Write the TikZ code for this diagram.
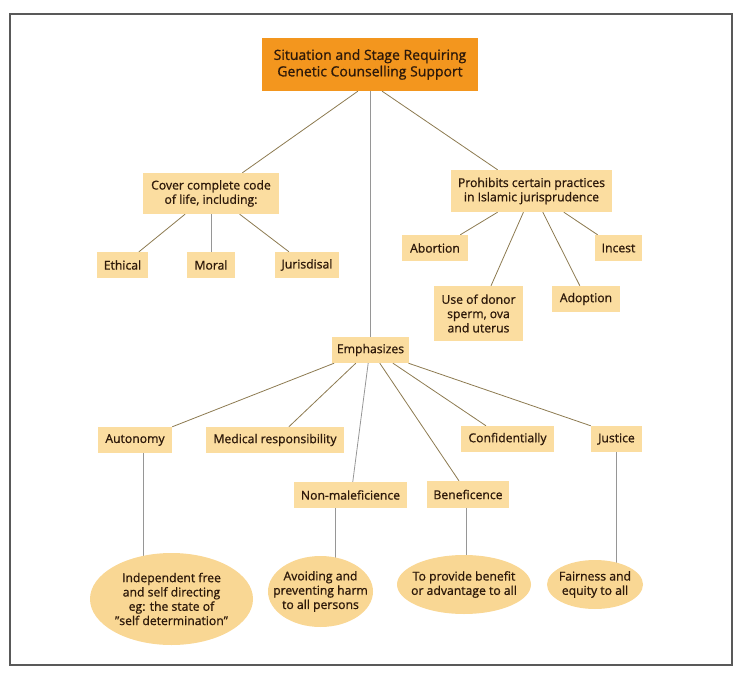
\documentclass[tikz,border=0pt]{standalone}
\usepackage{fontspec}
\setmainfont{Open Sans}[FakeBold=0.9]
\usetikzlibrary{calc,shapes.geometric,backgrounds}
\definecolor{boxfill}{RGB}{251,221,160}
\definecolor{ellfill}{RGB}{249,215,148}
\definecolor{topfill}{RGB}{243,150,30}
\definecolor{txt}{RGB}{45,25,10}
\definecolor{linkc}{RGB}{140,122,80}
\definecolor{vlink}{RGB}{150,150,150}
\tikzset{
  pbox/.style={fill=boxfill, text=txt, inner sep=0pt, align=center,
    font=\fontsize{12.2}{14.3}\selectfont},
  topbox/.style={fill=topfill, text=txt, inner sep=0pt, align=center,
    font=\fontsize{14}{16.5}\selectfont, minimum width=216pt, minimum height=53pt},
  pell/.style={ellipse, fill=ellfill, inner sep=0pt},
  etext/.style={text=txt, inner sep=0pt, align=center,
    font=\fontsize{12.2}{14.3}\selectfont},
  link/.style={draw=linkc, line width=0.8pt},
  vline/.style={draw=vlink, line width=0.8pt},
  frame/.style={draw=black!65, line width=1.2pt}
}
\begin{document}
\begin{tikzpicture}[x=1pt,y=-1pt]
\useasboundingbox (0,0) rectangle (742,677);
\draw[frame] (10,14) rectangle (732,665);

\node[topbox] (top) at (370,64.5) {Situation and Stage Requiring\\Genetic Counselling Support};

\node[pbox, minimum width=136pt, minimum height=41pt] (cover) at (211,193.5) {Cover complete code\\of life, including:};
\node[pbox, minimum width=51pt, minimum height=26pt] (ethical) at (122.5,265) {Ethical};
\node[pbox, minimum width=48pt, minimum height=26pt] (moral) at (211,265) {Moral};
\node[pbox, minimum width=64pt, minimum height=26pt] (juris) at (307,265) {Jurisdisal};

\node[pbox, minimum width=161pt, minimum height=42pt] (prohib) at (531.5,191) {Prohibits certain practices\\in Islamic jurisprudence};
\node[pbox, minimum width=66pt, minimum height=26pt] (abortion) at (435,248) {Abortion};
\node[pbox, minimum width=47pt, minimum height=26pt] (incest) at (618.5,248) {Incest};
\node[pbox, minimum width=89pt, minimum height=55pt] (donor) at (478.5,313.5) {Use of donor\\sperm, ova\\and uterus};
\node[pbox, minimum width=68pt, minimum height=26pt] (adoption) at (586,299) {Adoption};

\node[pbox, minimum width=77pt, minimum height=26pt] (emph) at (370.5,350) {Emphasizes};
\node[pbox, minimum width=74pt, minimum height=26pt] (autonomy) at (135,440) {Autonomy};
\node[pbox, minimum width=138pt, minimum height=26pt] (medical) at (275,440) {Medical responsibility};
\node[pbox, minimum width=93pt, minimum height=26pt] (confid) at (507.5,439) {Confidentially};
\node[pbox, minimum width=51pt, minimum height=26pt] (justice) at (616.5,439) {Justice};
\node[pbox, minimum width=113pt, minimum height=26pt] (nonmal) at (350.5,495) {Non-maleficience};
\node[pbox, minimum width=82pt, minimum height=27pt] (benef) at (468,494.5) {Beneficence};

\node[pell, minimum width=163pt, minimum height=92pt] (e1) at (171.5,599) {};
\node[etext] (e1t) at (e1.center) {Independent free\\and self directing\\eg: the state of\\\char34 self determination\char34};
\node[pell, minimum width=105pt, minimum height=71pt] (e2) at (320.5,591.5) {};
\node[etext] (e2t) at (e2.center) {Avoiding and\\preventing harm\\to all persons};
\node[pell, minimum width=134pt, minimum height=59pt] (e3) at (464,584.5) {};
\node[etext] (e3t) at (e3.center) {To provide benefit\\or advantage to all};
\node[pell, minimum width=96pt, minimum height=49pt] (e4) at (595,584.5) {};
\node[etext] (e4t) at (e4.center) {Fairness and\\equity to all};

\begin{scope}[on background layer]
% from top box
\draw[link] ($(top.south west)!0.444!(top.south east)$) -- ($(cover.north west)!0.73!(cover.north east)$);
\draw[link] ($(top.south west)!0.556!(top.south east)$) -- ($(prohib.north west)!0.29!(prohib.north east)$);
\draw[vline] (top.south) -- (top.south |- emph.north);
% cover children
\draw[link] ($(cover.south west)!0.31!(cover.south east)$) -- ($(ethical.north west)!0.82!(ethical.north east)$);
\draw[vline] (cover.south) -- (moral.north);
\draw[link] ($(cover.south west)!0.71!(cover.south east)$) -- ($(juris.north west)!0.22!(juris.north east)$);
% prohibits children
\draw[link] ($(prohib.south west)!0.29!(prohib.south east)$) -- ($(abortion.north west)!0.88!(abortion.north east)$);
\draw[link] ($(prohib.south west)!0.45!(prohib.south east)$) -- ($(donor.north west)!0.64!(donor.north east)$);
\draw[link] ($(prohib.south west)!0.57!(prohib.south east)$) -- ($(adoption.north west)!0.41!(adoption.north east)$);
\draw[link] ($(prohib.south west)!0.70!(prohib.south east)$) -- ($(incest.north west)!0.06!(incest.north east)$);
% emphasizes children
\draw[link] ($(emph.south west)!0.03!(emph.south east)$) -- (autonomy.north east);
\draw[link] ($(emph.south west)!0.31!(emph.south east)$) -- ($(medical.north west)!0.6!(medical.north east)$);
\draw[vline] ($(emph.south west)!0.47!(emph.south east)$) -- ($(nonmal.north west)!0.52!(nonmal.north east)$);
\draw[link] ($(emph.south west)!0.62!(emph.south east)$) -- ($(benef.north west)!0.39!(benef.north east)$);
\draw[link] ($(emph.south west)!0.79!(emph.south east)$) -- ($(confid.north west)!0.27!(confid.north east)$);
\draw[link] ($(emph.south west)!0.99!(emph.south east)$) -- (justice.north west);
% to ellipses
\coordinate (a1) at ($(autonomy.south west)!0.61!(autonomy.south east)$);
\draw[vline] (a1) -- (a1 |- e1.center);
\coordinate (a2) at ($(nonmal.south west)!0.37!(nonmal.south east)$);
\draw[vline] (a2) -- (a2 |- e2.center);
\coordinate (a3) at ($(benef.south west)!0.48!(benef.south east)$);
\draw[vline] (a3) -- (a3 |- e3.center);
\coordinate (a4) at ($(justice.south west)!0.49!(justice.south east)$);
\draw[vline] (a4) -- (a4 |- e4.center);
\end{scope}
\end{tikzpicture}
\end{document}
